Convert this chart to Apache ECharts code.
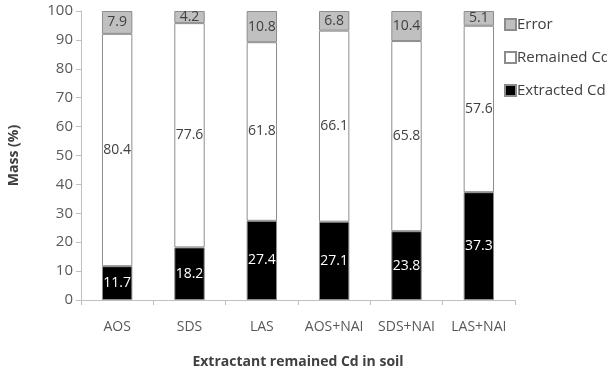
<!DOCTYPE html>
<html>
<head>
<meta charset="utf-8">
<script src="https://cdn.jsdelivr.net/npm/echarts@6/dist/echarts.min.js"></script>
<style>
  html, body { margin: 0; padding: 0; background: #fff; }
  #chart { width: 607px; height: 369px; }
</style>
</head>
<body>
<div id="chart"></div>
<script>
// Data
const categories = ['AOS', 'SDS', 'LAS', 'AOS+NAI', 'SDS+NAI', 'LAS+NAI'];
const extracted = [11.7, 18.2, 27.4, 27.1, 23.8, 37.3];
const remained = [80.4, 77.6, 61.8, 66.1, 65.8, 57.6];
const errorPart = [7.9, 4.2, 10.8, 6.8, 10.4, 5.1];

const font = 'Open Sans';

function barSeries(name, data, fill, labelColor) {
    return {
        name: name,
        type: 'bar',
        stack: 'total',
        data: data,
        barWidth: '42%',
        itemStyle: {
            color: fill,
            borderColor: '#8c8c8c',
            borderWidth: 1
        },
        label: {
            show: true,
            position: 'inside',
            color: labelColor,
            fontFamily: font,
            fontSize: 14
        }
    };
}

const chart = echarts.init(document.getElementById('chart'));

const option = {
    animation: false,
    backgroundColor: '#fff',
    grid: {
        left: 81,
        right: 92,
        top: 11,
        bottom: 69,
        containLabel: false,
        outerBoundsMode: 'none'
    },
    legend: {
        orient: 'vertical',
        left: 499,
        top: 12,
        itemWidth: 11,
        itemHeight: 11,
        itemGap: 18,
        icon: 'rect',
        data: ['Error', 'Remained Cd', 'Extracted Cd'],
        textStyle: {
            fontFamily: font,
            fontSize: 15,
            color: '#404040',
            padding: [0, 0, 0, -4]
        }
    },
    xAxis: {
        type: 'category',
        data: categories,
        name: 'Extractant remained Cd in soil',
        nameLocation: 'middle',
        nameGap: 55,
        nameTextStyle: {
            fontFamily: font,
            fontSize: 14,
            fontWeight: 'bold',
            color: '#404040'
        },
        axisLine: { lineStyle: { color: '#bfbfbf' } },
        axisTick: { show: true, length: 5, lineStyle: { color: '#bfbfbf' } },
        axisLabel: {
            interval: 0,
            hideOverlap: false,
            fontFamily: font,
            fontSize: 14,
            color: '#595959',
            margin: 20
        }
    },
    yAxis: {
        type: 'value',
        min: 0,
        max: 100,
        interval: 10,
        name: 'Mass (%)',
        nameLocation: 'middle',
        nameGap: 60,
        nameTextStyle: {
            fontFamily: font,
            fontSize: 14,
            fontWeight: 'bold',
            color: '#404040'
        },
        axisLine: { show: true, lineStyle: { color: '#bfbfbf' } },
        axisTick: { show: true, length: 5, lineStyle: { color: '#bfbfbf' } },
        splitLine: { show: false },
        axisLabel: {
            fontFamily: font,
            fontSize: 15,
            color: '#595959',
            margin: 8
        }
    },
    series: [
        barSeries('Extracted Cd', extracted, '#000000', '#ffffff'),
        barSeries('Remained Cd', remained, '#ffffff', '#404040'),
        barSeries('Error', errorPart, '#c0c0c0', '#404040')
    ]
};

chart.setOption(option);
</script>
</body>
</html>
